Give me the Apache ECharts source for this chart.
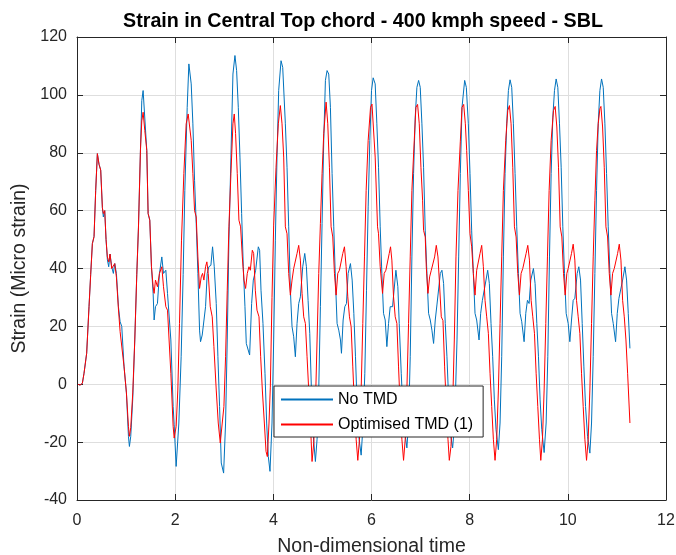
<!DOCTYPE html>
<html>
<head>
<meta charset="utf-8">
<script src="https://cdn.jsdelivr.net/npm/echarts@6/dist/echarts.min.js"></script>
<style>
  html, body { margin: 0; padding: 0; background: #fff; }
  #chart { width: 676px; height: 555px; }
</style>
</head>
<body>
<div id="chart"></div>
<script>
// Non-dimensional time samples and strain (micro strain) for the case without a TMD
const timeNoTmd = [
  0.020, 0.061, 0.109, 0.143, 0.197, 0.245, 0.279, 0.313, 0.347, 0.381, 0.415, 0.449, 0.483, 0.517, 0.537, 0.565,
  0.592, 0.619, 0.646, 0.673, 0.707, 0.741, 0.769, 0.803, 0.844, 0.878, 0.912, 0.959, 1.007, 1.048, 1.068, 1.095,
  1.136, 1.177, 1.218, 1.252, 1.293, 1.320, 1.347, 1.381, 1.422, 1.449, 1.483, 1.517, 1.551, 1.571, 1.599, 1.639,
  1.680, 1.728, 1.762, 1.810, 1.844, 1.912, 1.959, 1.980, 2.020, 2.041, 2.075, 2.122, 2.163, 2.197, 2.245, 2.279,
  2.299, 2.327, 2.361, 2.395, 2.429, 2.463, 2.497, 2.517, 2.551, 2.585, 2.619, 2.653, 2.687, 2.728, 2.762, 2.796,
  2.837, 2.871, 2.905, 2.939, 2.987, 3.027, 3.061, 3.095, 3.136, 3.177, 3.218, 3.252, 3.286, 3.320, 3.354, 3.388,
  3.422, 3.449, 3.483, 3.517, 3.558, 3.592, 3.640, 3.694, 3.721, 3.749, 3.789, 3.830, 3.864, 3.898, 3.932, 3.973,
  4.007, 4.041, 4.075, 4.109, 4.157, 4.191, 4.245, 4.279, 4.313, 4.347, 4.381, 4.415, 4.449, 4.483, 4.517, 4.551,
  4.599, 4.640, 4.674, 4.708, 4.742, 4.776, 4.810, 4.857, 4.891, 4.925, 4.959, 4.993, 5.027, 5.061, 5.095, 5.129,
  5.163, 5.197, 5.231, 5.265, 5.299, 5.333, 5.368, 5.388, 5.422, 5.456, 5.490, 5.524, 5.571, 5.606, 5.640, 5.674,
  5.708, 5.748, 5.789, 5.830, 5.864, 5.898, 5.932, 5.966, 6.000, 6.034, 6.075, 6.109, 6.143, 6.177, 6.211, 6.245,
  6.279, 6.313, 6.347, 6.381, 6.429, 6.497, 6.537, 6.565, 6.606, 6.653, 6.721, 6.755, 6.789, 6.823, 6.857, 6.891,
  6.925, 6.960, 6.993, 7.027, 7.061, 7.095, 7.129, 7.163, 7.197, 7.231, 7.265, 7.299, 7.333, 7.368, 7.402, 7.435,
  7.469, 7.503, 7.537, 7.572, 7.606, 7.653, 7.694, 7.742, 7.776, 7.810, 7.844, 7.898, 7.932, 7.973, 8.007, 8.041,
  8.075, 8.109, 8.143, 8.191, 8.224, 8.259, 8.293, 8.333, 8.367, 8.401, 8.435, 8.469, 8.503, 8.537, 8.585, 8.619,
  8.653, 8.687, 8.721, 8.755, 8.789, 8.823, 8.857, 8.891, 8.925, 8.959, 8.993, 9.027, 9.061, 9.109, 9.143, 9.177,
  9.211, 9.245, 9.299, 9.333, 9.368, 9.402, 9.435, 9.469, 9.517, 9.558, 9.592, 9.626, 9.660, 9.694, 9.728, 9.762,
  9.796, 9.830, 9.864, 9.898, 9.932, 9.966, 10.007, 10.041, 10.075, 10.109, 10.143, 10.190, 10.224, 10.259, 10.293, 10.327,
  10.361, 10.401, 10.449, 10.483, 10.517, 10.551, 10.585, 10.619, 10.653, 10.687, 10.721, 10.755, 10.789, 10.823, 10.857, 10.891,
  10.925, 10.973, 11.007, 11.041, 11.075, 11.116, 11.163, 11.197, 11.231, 11.265
];
const strainNoTmd = [
  0, -0.3, 0.3, 3.8, 10.7, 26.8, 38, 48.6, 51, 67, 79.7, 76, 74, 61, 57.8, 60,
  50, 43, 40.6, 45, 40.6, 38.3, 41.7, 38.3, 26.8, 21.6, 20, 6, -3, -18, -21.5, -18,
  -5, 15.3, 38, 54, 81, 98, 101.5, 92, 80.8, 59, 56.7, 40.6, 31.4, 22.2, 26.8, 27.9,
  38.3, 44, 38.3, 39.4, 31.4, 15.3, -7.7, -14, -28.4, -29, -13.4, 9.5, 38, 67, 95.7, 110.7,
  111.3, 103.8, 90, 70.5, 55.5, 38.3, 18.7, 14.7, 17, 16.4, 26.8, 38.3, 40.6, 41.1, 47.5, 40.6,
  27.9, 9.5, -7.7, -27.2, -30.7, -13.4, 15.3, 49.8, 78.5, 107.2, 113.6, 108.4, 95.7, 78.5, 59, 40.6,
  26.8, 14.1, 13.6, 10.1, 27.9, 36, 39.4, 47.5, 46.3, 32.5, 21, 3.8, -13.4, -25, -30.1, -13.4,
  15.3, 49.8, 78.5, 101.5, 111.8, 109.5, 90, 75, 54.4, 32.5, 19.9, 16.4, 9.5, 21, 27.9, 30.2,
  40.6, 45.2, 40.6, 29, 17.6, -2, -16.9, -26.7, -19, -2, 26.8, 55.5, 84.3, 105, 108.4, 107.2,
  95.7, 72.8, 54.4, 36, 21, 18.7, 15.3, 10.7, 22.2, 26.8, 27.9, 38.3, 41.7, 36, 24.5, 9.5,
  -7.7, -19, -24.5, -13.4, 3.8, 32.5, 61.3, 84.3, 101.5, 105.9, 103.8, 90, 75, 54.4, 38.3, 24.5,
  22.2, 13, 21, 26.8, 26.8, 39.4, 33.7, 21, 3.8, -13.4, -22, -13.4, 9.5, 44, 72.8, 92.3,
  102.6, 105, 102.6, 90, 75, 53, 38.3, 24.5, 22.2, 18.7, 14.1, 22.2, 27.4, 27.4, 38.3, 39.4,
  34.8, 21, 9.5, -5.4, -16.9, -22, -13.4, 15.3, 44, 72.8, 95.7, 105, 102.6, 90, 72.8, 53,
  38.3, 24.5, 22.2, 15.3, 24.5, 29, 28.5, 36, 39.4, 34.8, 21, 9.5, -5.4, -15.7, -22.6, -13.4,
  9.5, 44, 72.8, 90, 101.5, 105.2, 102.6, 90, 72.8, 54.4, 38.3, 24.5, 21.6, 14.7, 24.5, 29,
  27.9, 36, 40, 34.8, 21, 9.5, -5.4, -15.7, -23.6, -13.4, 9.5, 44, 72.8, 92.3, 101.5, 105.5,
  102.6, 90, 75, 54.4, 38.3, 24.5, 21, 14.7, 22.2, 29, 29.7, 38.3, 40.6, 36, 21, 6,
  -7.7, -18, -23.8, -13.4, 9.5, 38.3, 67, 90, 101.5, 105.5, 102.6, 90, 72.8, 54.4, 38.3, 24.5,
  21, 14.7, 24.5, 29.7, 29.7, 36, 40.6, 36, 24.5, 12.4
];

// Same quantities with the optimised tuned mass damper
const timeTmd = [
  0.020, 0.061, 0.109, 0.143, 0.197, 0.245, 0.279, 0.313, 0.347, 0.381, 0.415, 0.449, 0.483, 0.517, 0.537, 0.565,
  0.592, 0.619, 0.646, 0.673, 0.707, 0.741, 0.769, 0.803, 0.844, 0.878, 0.912, 0.959, 1.007, 1.048, 1.068, 1.095,
  1.136, 1.177, 1.218, 1.252, 1.293, 1.320, 1.347, 1.381, 1.422, 1.449, 1.483, 1.517, 1.551, 1.571, 1.599, 1.639,
  1.680, 1.728, 1.762, 1.810, 1.844, 1.912, 1.959, 1.980, 2.020, 2.054, 2.088, 2.129, 2.177, 2.224, 2.265, 2.293,
  2.327, 2.361, 2.395, 2.429, 2.463, 2.497, 2.531, 2.558, 2.585, 2.619, 2.646, 2.674, 2.715, 2.755, 2.789, 2.837,
  2.878, 2.919, 2.959, 2.993, 3.027, 3.061, 3.095, 3.136, 3.177, 3.204, 3.231, 3.265, 3.299, 3.333, 3.368, 3.402,
  3.435, 3.469, 3.503, 3.531, 3.572, 3.599, 3.633, 3.667, 3.708, 3.742, 3.776, 3.817, 3.851, 3.878, 3.912, 3.939,
  3.973, 4.007, 4.055, 4.102, 4.143, 4.177, 4.211, 4.245, 4.279, 4.313, 4.347, 4.381, 4.415, 4.449, 4.483, 4.517,
  4.551, 4.585, 4.619, 4.653, 4.687, 4.721, 4.755, 4.789, 4.823, 4.857, 4.891, 4.925, 4.959, 4.993, 5.027, 5.075,
  5.109, 5.143, 5.177, 5.211, 5.245, 5.279, 5.313, 5.347, 5.381, 5.415, 5.449, 5.483, 5.517, 5.551, 5.585, 5.619,
  5.653, 5.687, 5.721, 5.755, 5.789, 5.823, 5.857, 5.891, 5.932, 5.980, 6.010, 6.075, 6.123, 6.143, 6.177, 6.225,
  6.259, 6.293, 6.327, 6.361, 6.388, 6.415, 6.449, 6.483, 6.517, 6.551, 6.585, 6.619, 6.653, 6.687, 6.721, 6.755,
  6.789, 6.823, 6.871, 6.905, 6.939, 6.973, 7.007, 7.041, 7.061, 7.095, 7.116, 7.150, 7.184, 7.218, 7.252, 7.286,
  7.320, 7.354, 7.381, 7.422, 7.456, 7.490, 7.524, 7.558, 7.585, 7.619, 7.653, 7.687, 7.721, 7.762, 7.810, 7.844,
  7.878, 7.912, 7.939, 7.973, 8.007, 8.041, 8.075, 8.109, 8.143, 8.177, 8.211, 8.245, 8.279, 8.313, 8.347, 8.381,
  8.415, 8.449, 8.483, 8.517, 8.551, 8.585, 8.619, 8.653, 8.687, 8.735, 8.776, 8.810, 8.844, 8.878, 8.912, 8.946,
  8.980, 9.014, 9.048, 9.082, 9.116, 9.150, 9.184, 9.218, 9.252, 9.286, 9.320, 9.354, 9.388, 9.422, 9.449, 9.483,
  9.517, 9.551, 9.585, 9.619, 9.660, 9.708, 9.742, 9.776, 9.810, 9.844, 9.878, 9.912, 9.946, 9.980, 10.007, 10.041,
  10.075, 10.109, 10.143, 10.177, 10.211, 10.245, 10.279, 10.313, 10.347, 10.381, 10.415, 10.449, 10.483, 10.517, 10.551, 10.585,
  10.619, 10.653, 10.674, 10.708, 10.742, 10.776, 10.810, 10.844, 10.878, 10.912, 10.946, 10.980, 11.014, 11.048, 11.082, 11.116,
  11.150, 11.184, 11.218, 11.265
];
const strainTmd = [
  0, -0.3, 0.3, 3.8, 10.7, 26.8, 38, 48.6, 51, 67, 79.7, 76, 74, 61, 59, 60,
  50, 44, 42.3, 45, 40, 39.4, 41.7, 37, 26, 18.2, 17.6, 6, -3, -14.6, -18, -15,
  -3, 15.3, 38, 54, 81, 91, 94, 87.7, 80.8, 59, 56.7, 40.6, 33.7, 31.4, 36, 33.7,
  38.3, 40.6, 33.7, 26.8, 25.6, 3.8, -14.6, -18.6, -14.6, -2, 21, 49.8, 72.8, 90, 93.4, 94,
  84.3, 72.8, 60, 57.8, 44, 33.1, 37.1, 38.3, 36, 40.6, 42.3, 38.3, 26.8, 23.3, 13, -2,
  -13.4, -20.3, -13.4, -7.7, 9.5, 32.5, 54.4, 72.8, 90, 93.4, 86.6, 72.8, 56.7, 54.4, 44, 36,
  33.1, 38.3, 40.6, 39.4, 46.3, 45.2, 32.5, 25.6, 23.3, 9.5, -2, -13.4, -23.2, -25, -13.4, -1,
  30, 55, 75, 90, 96.3, 90, 78.5, 54.4, 52, 38.3, 30.8, 36, 40, 39.4, 45.2, 48,
  42.9, 31.4, 23.3, 21, 9.5, -2, -13.4, -26.7, -20.3, -7.7, 15.3, 38.3, 55.5, 72.8, 86.6, 97.5,
  90, 75, 54.4, 50.9, 38.3, 30.8, 38.3, 39.4, 39.4, 45.2, 47.5, 40.6, 30.2, 23.3, 19.9, 6,
  -7.7, -19, -26.3, -19, -2, 21, 44, 67, 84.3, 95.7, 96.8, 78.5, 54.4, 52, 40.6, 31.4,
  38.3, 39.4, 39.4, 45.2, 47.5, 42.9, 30.2, 23.3, 21, 6, -7.7, -19, -26.3, -19, -2, 21,
  44, 67, 84.3, 95.7, 96.7, 90, 75, 63.6, 53.2, 50.9, 40.6, 31.4, 37.1, 39.4, 40, 44,
  48, 44, 36, 23.3, 22, 6, -7.7, -19, -26.3, -21.5, -7.7, 15.3, 44, 67, 84, 95.7,
  96.7, 90, 80.8, 67, 52, 47.5, 38.3, 30.8, 39.4, 40, 45.2, 48, 40.6, 29, 23.3, 17.6,
  3.8, -7.7, -19, -26.3, -19, -2, 21, 44, 67, 84.3, 94.6, 96.3, 90, 75, 54.4, 50.9,
  38.3, 30.8, 38.3, 40, 40.6, 45.2, 48, 42.9, 29, 23.3, 17.6, 3.8, -7.7, -19, -26.3, -19,
  -2, 21, 44, 67, 84.3, 94.6, 96, 88.9, 75, 54.4, 50.9, 38.3, 30.8, 38.3, 40, 40.6,
  45.2, 48.4, 42.9, 29, 23.3, 17.6, 3.8, -7.7, -19, -26.3, -19, -2, 21, 44, 63.6, 80.8,
  90, 95.2, 96, 88.9, 75, 54.4, 50.9, 38.3, 30.8, 38.3, 40, 40.6, 45.2, 48.4, 42.9, 29,
  23.3, 15.3, 3.8, -13.4
];

const xTicks = { min: 0, max: 12, step: 2 };
const yTicks = { min: -40, max: 120, step: 20 };

const pairs = (t, v) => t.map((x, i) => [x, v[i]]);

const font = 'Liberation Sans, Arial, Helvetica, sans-serif';
const ink = '#262626';

// Plain axis used for the box frame (top and right edges)
const frameAxis = (extra) => Object.assign({
  type: 'value',
  axisLine: { show: true, onZero: false, lineStyle: { color: ink, width: 1 } },
  axisTick: { show: true, inside: true, length: 6, lineStyle: { color: ink } },
  axisLabel: { show: false },
  splitLine: { show: false }
}, extra);

const chart = echarts.init(document.getElementById('chart'), null, { renderer: 'canvas' });
chart.setOption({
  animation: false,
  backgroundColor: '#ffffff',
  title: {
    text: 'Strain in Central Top chord - 400 kmph speed - SBL',
    left: 358, top: 7, textAlign: 'center',
    textStyle: { fontFamily: font, fontSize: 19.7, fontWeight: 'bold', color: '#000' }
  },
  grid: { left: 77, right: 10, top: 37, bottom: 55, containLabel: false, outerBoundsMode: 'none' },
  legend: {
    orient: 'vertical',
    left: 274, top: 386,
    padding: [5, 10, 4, 6],
    itemGap: 8,
    itemWidth: 52,
    itemHeight: 14,
    backgroundColor: '#ffffff',
    borderColor: ink,
    borderWidth: 1,
    borderRadius: 0,
    itemStyle: { opacity: 0 },
    textStyle: { fontFamily: font, fontSize: 16, color: '#000', lineHeight: 17 },
    data: ['No TMD', 'Optimised TMD (1)']
  },
  xAxis: [
    frameAxis({
      min: xTicks.min, max: xTicks.max, interval: xTicks.step, position: 'bottom',
      name: 'Non-dimensional time', nameLocation: 'middle', nameGap: 37,
      nameTextStyle: { fontFamily: font, fontSize: 19.5, color: ink },
      axisLabel: { show: true, margin: 13, fontFamily: font, fontSize: 16, color: ink },
      splitLine: { show: true, lineStyle: { color: '#dedede', width: 1 } }
    }),
    frameAxis({ min: xTicks.min, max: xTicks.max, interval: xTicks.step, position: 'top' })
  ],
  yAxis: [
    frameAxis({
      min: yTicks.min, max: yTicks.max, interval: yTicks.step, position: 'left',
      name: 'Strain (Micro strain)', nameLocation: 'middle', nameGap: 40,
      nameTextStyle: { fontFamily: font, fontSize: 19.5, color: ink },
      axisLabel: { show: true, margin: 10, fontFamily: font, fontSize: 16, color: ink },
      splitLine: { show: true, lineStyle: { color: '#dedede', width: 1 } }
    }),
    frameAxis({ min: yTicks.min, max: yTicks.max, interval: yTicks.step, position: 'right' })
  ],
  series: [
    {
      name: 'No TMD', type: 'line', data: pairs(timeNoTmd, strainNoTmd),
      showSymbol: false, symbol: 'none', smooth: false,
      lineStyle: { color: '#0072BD', width: 1 }, itemStyle: { color: '#0072BD' }, z: 2
    },
    {
      name: 'Optimised TMD (1)', type: 'line', data: pairs(timeTmd, strainTmd),
      showSymbol: false, symbol: 'none', smooth: false,
      lineStyle: { color: '#FF0000', width: 1 }, itemStyle: { color: '#FF0000' }, z: 3
    }
  ]
});
</script>
</body>
</html>
